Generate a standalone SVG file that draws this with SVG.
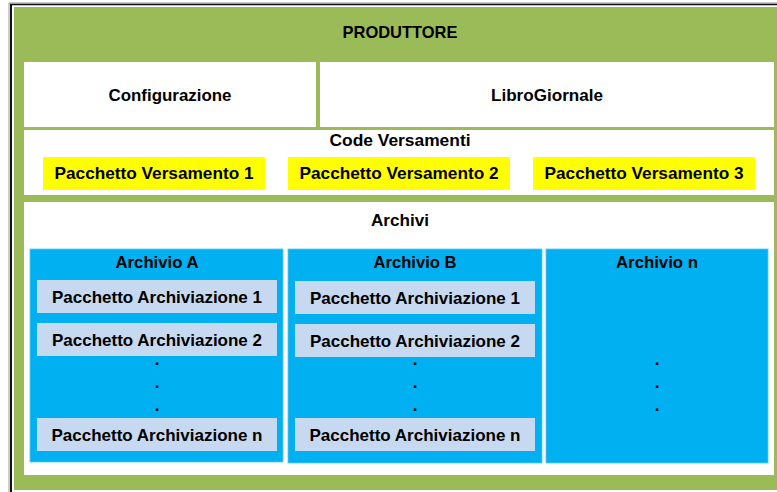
<svg xmlns="http://www.w3.org/2000/svg" width="777" height="492" viewBox="0 0 777 492">
<style>
text{font-family:"Liberation Sans",Arial,sans-serif;font-weight:bold;fill:#000;text-anchor:middle;dominant-baseline:central}
.t{font-size:17px}
.w{fill:#fff}
.y{fill:#ffff00}
.b{fill:#00b0f0;stroke:#5bc8f2;stroke-width:0.8}
.p{fill:#c6d9f1}
.d{font-size:17px}
</style>
<rect x="0" y="0" width="777" height="492" fill="#fff"/>
<g id="frame">
<line x1="9" y1="3" x2="777" y2="3" stroke="#999" stroke-width="1"/>
<line x1="9" y1="3" x2="9" y2="492" stroke="#999" stroke-width="1"/>
<line x1="10" y1="4.5" x2="777" y2="4.5" stroke="#111" stroke-width="1.5"/>
<line x1="11" y1="4" x2="11" y2="492" stroke="#111" stroke-width="2"/>
</g>
<g id="produttore">
<rect x="14" y="7" width="763" height="483" fill="#9bbb59"/>
<text class="t" x="400" y="32" textLength="115" lengthAdjust="spacingAndGlyphs">PRODUTTORE</text>
</g>
<g id="configurazione">
<rect class="w" x="24" y="62" width="292" height="65"/>
<text class="t" x="170" y="95" textLength="123" lengthAdjust="spacingAndGlyphs">Configurazione</text>
</g>
<g id="librogiornale">
<rect class="w" x="320" y="62" width="454" height="65"/>
<text class="t" x="547" y="95" textLength="112" lengthAdjust="spacingAndGlyphs">LibroGiornale</text>
</g>
<g id="code-versamenti">
<rect class="w" x="24" y="130" width="750" height="65"/>
<text class="t" x="400" y="140" textLength="141" lengthAdjust="spacingAndGlyphs">Code Versamenti</text>
</g>
<g id="pv1">
<rect class="y" x="43" y="157" width="222" height="33"/>
<text class="t" x="154" y="173" textLength="199" lengthAdjust="spacingAndGlyphs">Pacchetto Versamento 1</text>
</g>
<g id="pv2">
<rect class="y" x="288" y="157" width="222" height="33"/>
<text class="t" x="399" y="173" textLength="199" lengthAdjust="spacingAndGlyphs">Pacchetto Versamento 2</text>
</g>
<g id="pv3">
<rect class="y" x="533" y="157" width="222" height="33"/>
<text class="t" x="644" y="173" textLength="199" lengthAdjust="spacingAndGlyphs">Pacchetto Versamento 3</text>
</g>
<g id="archivi">
<rect class="w" x="24" y="202" width="750" height="273"/>
<text class="t" x="400" y="220" textLength="58" lengthAdjust="spacingAndGlyphs">Archivi</text>
</g>
<g id="archivio-a">
<rect class="b" x="30" y="249" width="253" height="213"/>
<text class="t" x="157" y="262" textLength="83" lengthAdjust="spacingAndGlyphs">Archivio A</text>
</g>
<g id="a1">
<rect class="p" x="37" y="280" width="240" height="33"/>
<text class="t" x="157" y="297" textLength="210" lengthAdjust="spacingAndGlyphs">Pacchetto Archiviazione 1</text>
</g>
<g id="a2">
<rect class="p" x="37" y="323" width="240" height="33"/>
<text class="t" x="157" y="340" textLength="210" lengthAdjust="spacingAndGlyphs">Pacchetto Archiviazione 2</text>
</g>
<g id="a-dots">
<text class="d" x="157" y="359">.</text>
<text class="d" x="157" y="382">.</text>
<text class="d" x="157" y="405">.</text>
</g>
<g id="an">
<rect class="p" x="37" y="418" width="240" height="33"/>
<text class="t" x="157" y="435" textLength="211" lengthAdjust="spacingAndGlyphs">Pacchetto Archiviazione n</text>
</g>
<g id="archivio-b">
<rect class="b" x="288" y="249" width="254" height="214"/>
<text class="t" x="415" y="262" textLength="83" lengthAdjust="spacingAndGlyphs">Archivio B</text>
</g>
<g id="b1">
<rect class="p" x="295" y="281" width="240" height="33"/>
<text class="t" x="415" y="298" textLength="210" lengthAdjust="spacingAndGlyphs">Pacchetto Archiviazione 1</text>
</g>
<g id="b2">
<rect class="p" x="295" y="324" width="240" height="33"/>
<text class="t" x="415" y="341" textLength="210" lengthAdjust="spacingAndGlyphs">Pacchetto Archiviazione 2</text>
</g>
<g id="b-dots">
<text class="d" x="415" y="359">.</text>
<text class="d" x="415" y="382">.</text>
<text class="d" x="415" y="405">.</text>
</g>
<g id="bn">
<rect class="p" x="295" y="418" width="240" height="33"/>
<text class="t" x="415" y="435" textLength="211" lengthAdjust="spacingAndGlyphs">Pacchetto Archiviazione n</text>
</g>
<g id="archivio-n">
<rect class="b" x="546" y="249" width="222" height="214"/>
<text class="t" x="657" y="262" textLength="82" lengthAdjust="spacingAndGlyphs">Archivio n</text>
</g>
<g id="n-dots">
<text class="d" x="657" y="359">.</text>
<text class="d" x="657" y="382">.</text>
<text class="d" x="657" y="405">.</text>
</g>
<g id="connectors"></g>
</svg>
